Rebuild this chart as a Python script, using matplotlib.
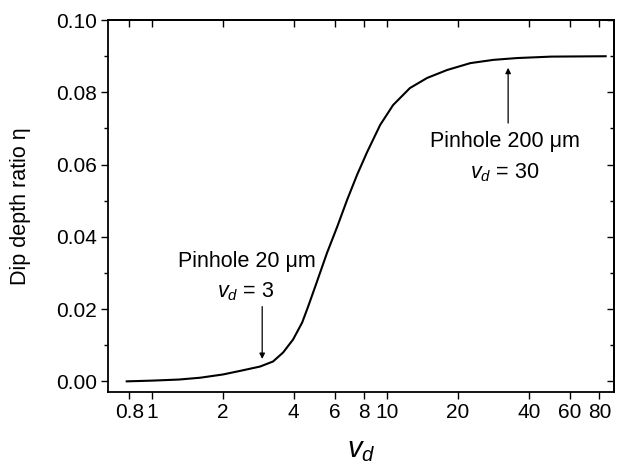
import matplotlib
matplotlib.use('Agg')
import matplotlib.pyplot as plt
from matplotlib.ticker import FixedLocator, FixedFormatter, NullFormatter, MultipleLocator

plt.rcParams['font.family'] = ['Liberation Sans', 'DejaVu Sans']
plt.rcParams['mathtext.fontset'] = 'custom'
plt.rcParams['mathtext.rm'] = 'Liberation Sans'
plt.rcParams['mathtext.it'] = 'Liberation Sans:italic'

# values
vd = [0.78, 1.0, 1.3, 1.6, 2.0, 2.37, 2.88, 3.27, 3.61, 3.98, 4.35, 4.61,
      4.94, 5.55, 6.13, 6.76, 7.45, 8.22, 9.34, 10.6, 12.5, 14.8,
      18.0, 22.6, 28.3, 35.7, 50, 85]
eta = [0.0, 0.0002, 0.0005, 0.0010, 0.0019, 0.0029, 0.0041, 0.0055,
       0.0080, 0.0116, 0.0163, 0.0207, 0.0262, 0.0356, 0.0428,
       0.0503, 0.0572, 0.0635, 0.0710, 0.0765, 0.0812, 0.0840, 0.0862,
       0.0881, 0.0890, 0.0895, 0.0899, 0.0900]

xticks = [0.8, 1, 2, 4, 6, 8, 10, 20, 40, 60, 80]
xticklabels = ['0.8', '1', '2', '4', '6', '8', '10', '20', '40', '60', '80']

fig = plt.figure(figsize=(6.36, 4.68), dpi=100)
ax = fig.add_axes([0.170, 0.162, 0.795, 0.795])

ax.plot(vd, eta, color='black', lw=1.5)

ax.set_xscale('log')
ax.set_xlim(0.65, 92)
ax.set_ylim(-0.003, 0.10)

ax.xaxis.set_major_locator(FixedLocator(xticks))
ax.xaxis.set_major_formatter(FixedFormatter(xticklabels))
ax.xaxis.set_minor_locator(FixedLocator([]))
ax.yaxis.set_major_locator(MultipleLocator(0.02))
ax.yaxis.set_minor_locator(MultipleLocator(0.01))
ax.yaxis.set_major_formatter(matplotlib.ticker.FormatStrFormatter('%.2f'))

ax.tick_params(which='both', direction='out', labelsize=15, width=1.0, pad=3)
ax.tick_params(which='major', length=5)
ax.tick_params(which='minor', length=3)

# inward ticks on top and right
top = ax.secondary_xaxis('top')
top.xaxis.set_major_locator(FixedLocator(xticks))
top.xaxis.set_minor_locator(FixedLocator([]))
top.xaxis.set_major_formatter(NullFormatter())
top.tick_params(direction='in', length=5, width=1.0)

right = ax.secondary_yaxis('right')
right.yaxis.set_major_locator(MultipleLocator(0.02))
right.yaxis.set_minor_locator(MultipleLocator(0.01))
right.yaxis.set_major_formatter(NullFormatter())
right.tick_params(which='both', direction='in', width=1.0)
right.tick_params(which='major', length=5)
right.tick_params(which='minor', length=3)

for sp in list(ax.spines.values()) + [top.spines['top'], right.spines['right']]:
    sp.set_linewidth(1.3)

ax.set_xlabel('$v_d$', fontsize=21, labelpad=10)
ax.set_ylabel('Dip depth ratio η', fontsize=15.5, labelpad=18)

# annotations
ax.text(2.54, 0.0331, 'Pinhole 20 μm', ha='center', va='center', fontsize=15.5)
ax.text(2.5, 0.0249, '$v_d$ = 3', ha='center', va='center', fontsize=15.5)
ax.annotate('', xy=(2.94, 0.0062), xytext=(2.94, 0.0207),
            arrowprops=dict(arrowstyle='-|>', color='black', lw=0.9,
                            mutation_scale=8, shrinkA=0, shrinkB=0))

ax.text(31.8, 0.0665, 'Pinhole 200 μm', ha='center', va='center', fontsize=15.5)
ax.text(31.5, 0.0577, '$v_d$ = 30', ha='center', va='center', fontsize=15.5)
ax.annotate('', xy=(32.7, 0.0868), xytext=(32.7, 0.0715),
            arrowprops=dict(arrowstyle='-|>', color='black', lw=0.9,
                            mutation_scale=8, shrinkA=0, shrinkB=0))

fig.savefig('out.png', dpi=100)
